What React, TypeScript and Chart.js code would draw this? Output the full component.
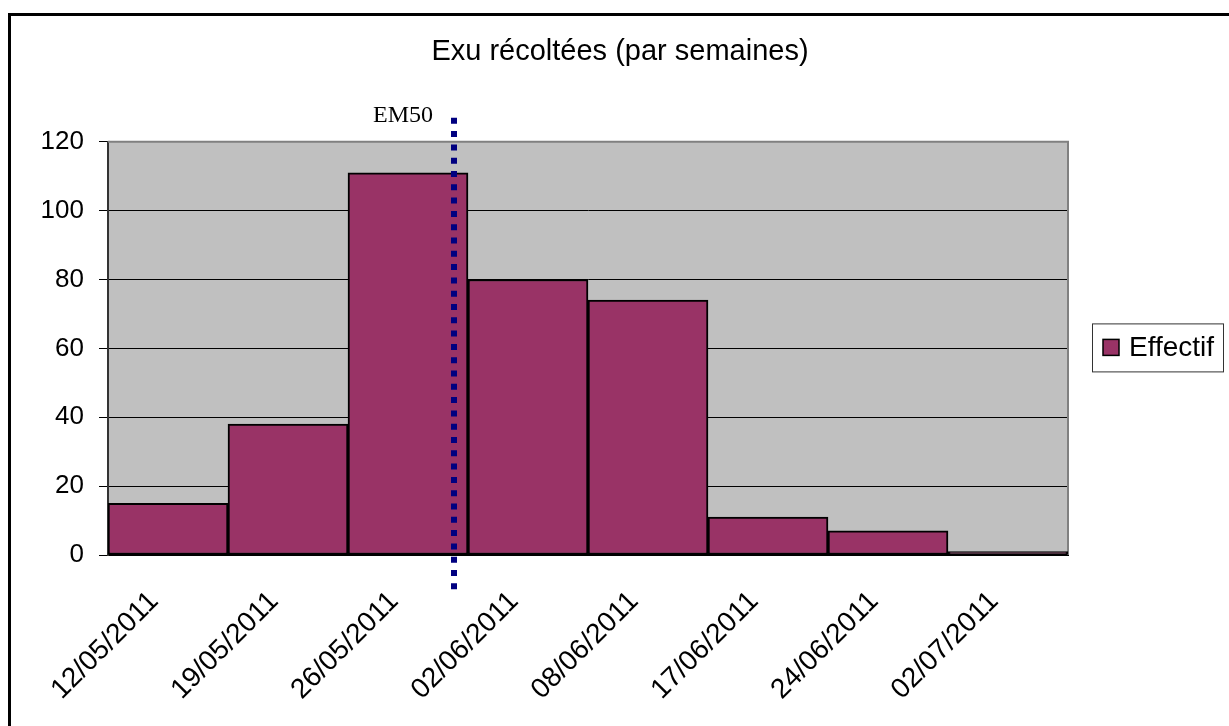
import React, { useEffect, useRef } from 'react';
import { Chart, registerables } from 'chart.js';

Chart.register(...registerables);

const categories = ['12/05/2011', '19/05/2011', '26/05/2011', '02/06/2011', '08/06/2011', '17/06/2011', '24/06/2011', '02/07/2011'];
const effectif = [15, 38, 111, 80, 74, 11, 7, 1];
const yTicks = [0, 20, 40, 60, 80, 100, 120];
const seriesLabel = 'Effectif';
const titleText = 'Exu récoltées (par semaines)';
const markerLabel = 'EM50';
const markerPosition = 2.38; // position on the category axis (index units)

const SANS = '"Liberation Sans", Arial, sans-serif';
const SERIF = '"Liberation Serif", "Times New Roman", serif';
const BAR_FILL = '#993366';

const decorPlugin = {
  id: 'decor',
  beforeDraw(chart: any) {
    const { ctx, chartArea: a } = chart;
    ctx.save();
    ctx.fillStyle = '#C0C0C0';
    ctx.fillRect(a.left, a.top, a.right - a.left, a.bottom - a.top);
    ctx.restore();
  },
  beforeDatasetsDraw(chart: any) {
    const { ctx, chartArea: a } = chart;
    ctx.save();
    ctx.strokeStyle = '#808080';
    ctx.lineWidth = 2;
    ctx.beginPath();
    ctx.moveTo(a.left, a.top);
    ctx.lineTo(a.right, a.top);
    ctx.lineTo(a.right, a.bottom);
    ctx.stroke();
    ctx.restore();
  },
  afterDraw(chart: any) {
    const { ctx, chartArea: a } = chart;
    const xs = chart.scales.x;
    const mx = Math.round(xs.getPixelForValue(markerPosition));
    ctx.save();
    // EM50 dotted line
    ctx.strokeStyle = '#000080';
    ctx.lineWidth = 6;
    ctx.lineCap = 'butt';
    ctx.setLineDash([6, 7.3]);
    ctx.beginPath();
    ctx.moveTo(mx, a.top - 24);
    ctx.lineTo(mx, a.bottom + 36);
    ctx.stroke();
    ctx.setLineDash([]);
    // EM50 label
    ctx.fillStyle = '#000';
    ctx.font = '24px ' + SERIF;
    ctx.textAlign = 'center';
    ctx.textBaseline = 'alphabetic';
    ctx.fillText(markerLabel, mx - 51, a.top - 20);
    // Legend
    const cy = (a.top + a.bottom) / 2 - 1;
    const lx = a.right + 24;
    const lw = 131;
    const lh = 48;
    ctx.fillStyle = '#fff';
    ctx.fillRect(lx, cy - lh / 2, lw, lh);
    ctx.strokeStyle = '#333';
    ctx.lineWidth = 1;
    ctx.strokeRect(lx + 0.5, cy - lh / 2 + 0.5, lw, lh);
    ctx.fillStyle = BAR_FILL;
    ctx.fillRect(lx + 11, cy - 8, 16, 16);
    ctx.strokeStyle = '#000';
    ctx.lineWidth = 1.5;
    ctx.strokeRect(lx + 11, cy - 8, 16, 16);
    ctx.fillStyle = '#000';
    ctx.font = '28px ' + SANS;
    ctx.textAlign = 'left';
    ctx.textBaseline = 'middle';
    ctx.fillText(seriesLabel, lx + 37, cy + 1);
    ctx.restore();
  },
};

export default function App() {
  const ref = useRef<HTMLCanvasElement | null>(null);

  useEffect(() => {
    document.documentElement.style.overflow = 'hidden';
    document.body.style.overflow = 'hidden';
    const canvas = ref.current;
    if (!canvas) return;
    const chart = new Chart(canvas, {
      type: 'bar',
      data: {
        labels: categories,
        datasets: [
          {
            label: seriesLabel,
            data: effectif,
            backgroundColor: BAR_FILL,
            borderColor: '#000',
            borderWidth: 2,
            borderSkipped: false,
            categoryPercentage: 1,
            barPercentage: 1,
          },
        ],
      },
      options: {
        animation: false,
        responsive: false,
        maintainAspectRatio: false,
        devicePixelRatio: 1,
        layout: { padding: 0 },
        plugins: {
          legend: { display: false },
          tooltip: { enabled: false },
          title: {
            display: true,
            text: titleText,
            color: '#000',
            font: { family: SANS, size: 29, weight: 'normal' },
            padding: { top: 19, bottom: 72 },
          },
        },
        scales: {
          x: {
            grid: { display: false },
            border: { display: true, color: '#000', width: 2 },
            ticks: {
              color: '#000',
              font: { family: SANS, size: 28 },
              maxRotation: 45,
              minRotation: 45,
              autoSkip: false,
              padding: 22,
              labelOffset: -14,
            },
            afterFit(scale: any) {
              scale.height = 171;
            },
          },
          y: {
            min: 0,
            max: 120,
            afterBuildTicks(scale: any) {
              scale.ticks = yTicks.map((v) => ({ value: v }));
            },
            grid: {
              color: (c: any) => (c.tick && c.tick.value === 120 ? 'rgba(0,0,0,0)' : '#000'),
              tickColor: '#000',
              tickLength: 9,
              lineWidth: 1,
            },
            border: { display: true, color: '#333', width: 2 },
            ticks: {
              color: '#000',
              font: { family: SANS, size: 26 },
              padding: 15,
            },
            afterFit(scale: any) {
              scale.width = 97;
            },
          },
          yRight: {
            position: 'right',
            display: true,
            grid: { display: false },
            border: { display: false },
            ticks: { display: false },
            afterFit(scale: any) {
              scale.width = 161;
            },
          },
        },
      },
      plugins: [decorPlugin],
    } as any);
    return () => chart.destroy();
  }, []);

  return (
    <div
      style={{
        position: 'fixed',
        left: 8,
        top: 13,
        width: 1221,
        height: 713,
        borderTop: '3px solid #000',
        borderLeft: '3px solid #000',
        boxSizing: 'border-box',
        background: '#fff',
      }}
    >
      <canvas ref={ref} width={1218} height={710} style={{ display: 'block', width: 1218, height: 710 }} />
    </div>
  );
}
